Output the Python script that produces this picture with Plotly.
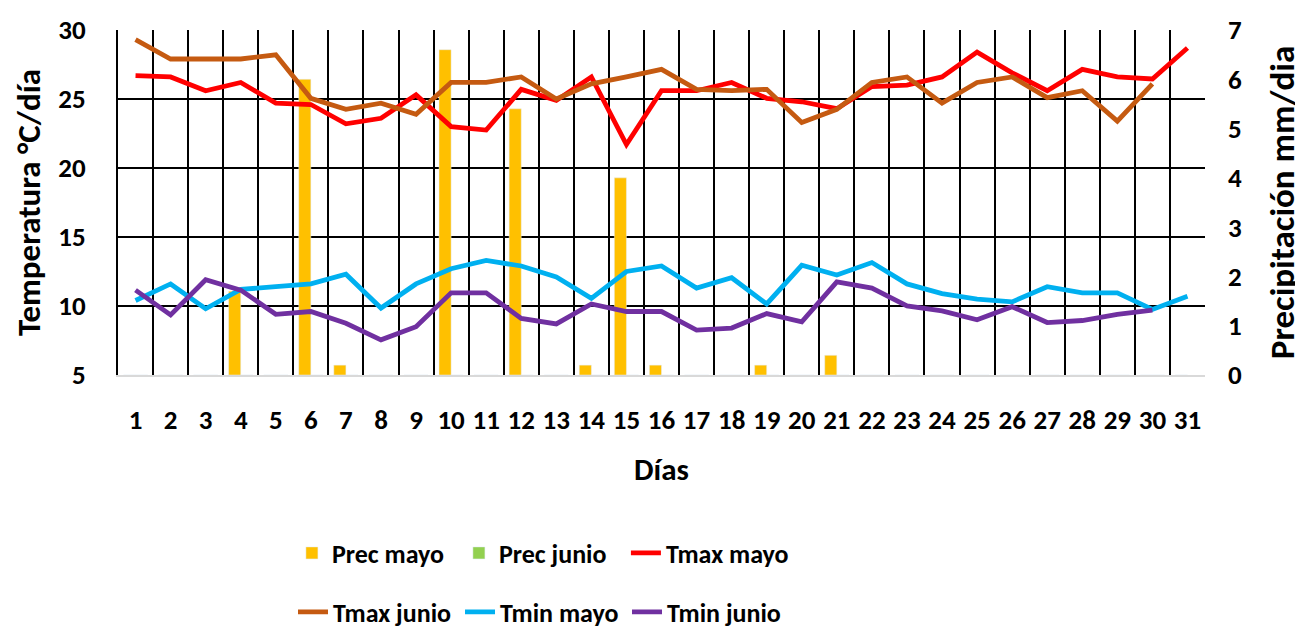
import plotly.graph_objects as go

days = list(range(1, 32))
prec_mayo = [0, 0, 0, 1.7, 0, 6.0, 0.2, 0, 0, 6.6, 0, 5.4, 0, 0.2, 4.0, 0.2, 0, 0, 0.2, 0, 0.4,
             0, 0, 0, 0, 0, 0, 0, 0, 0, 0]
prec_junio = [0] * 30
tmax_mayo = [26.7, 26.6, 25.6, 26.2, 24.7, 24.6, 23.2, 23.6, 25.3, 23.0, 22.75, 25.7, 24.9, 26.6,
             21.7, 25.6, 25.6, 26.2, 25.05, 24.8, 24.3, 25.9, 26.0, 26.6, 28.4, 26.9, 25.6, 27.15,
             26.6, 26.45, 28.7]
tmax_junio = [29.3, 27.9, 27.9, 27.9, 28.2, 25.05, 24.25, 24.7, 23.9, 26.2, 26.2, 26.6, 25.0, 26.1,
              26.6, 27.15, 25.7, 25.6, 25.7, 23.3, 24.25, 26.2, 26.6, 24.7, 26.2, 26.6, 25.1, 25.6,
              23.4, 26.1]
tmin_mayo = [10.4, 11.6, 9.8, 11.2, 11.4, 11.6, 12.3, 9.85, 11.6, 12.7, 13.3, 12.9, 12.1, 10.55,
             12.5, 12.9, 11.3, 12.05, 10.15, 12.95, 12.25, 13.15, 11.6, 10.9, 10.5, 10.3, 11.4,
             10.95, 10.95, 9.75, 10.7]
tmin_junio = [11.15, 9.35, 11.9, 11.15, 9.4, 9.6, 8.75, 7.55, 8.5, 10.95, 10.95, 9.1, 8.7, 10.15,
              9.6, 9.6, 8.25, 8.4, 9.45, 8.85, 11.75, 11.3, 10.0, 9.65, 9.0, 9.95, 8.8, 8.95, 9.4,
              9.7]

FONT = "Carlito, Calibri, Lato, sans-serif"
LW = 4.8

fig = go.Figure()
fig.add_trace(go.Bar(x=days, y=prec_mayo, name="Prec mayo", marker_color="#FFC000",
                     yaxis="y", legend="legend"))
fig.add_trace(go.Bar(x=days[:30], y=prec_junio, name="Prec junio", marker_color="#92D050",
                     yaxis="y", legend="legend"))
fig.add_trace(go.Scatter(x=days, y=tmax_mayo, name="Tmax mayo", mode="lines",
                         line=dict(color="#FF0000", width=LW), yaxis="y2", legend="legend"))
fig.add_trace(go.Scatter(x=days[:30], y=tmax_junio, name="Tmax junio", mode="lines",
                         line=dict(color="#C55A11", width=LW), yaxis="y2", legend="legend2"))
fig.add_trace(go.Scatter(x=days, y=tmin_mayo, name="Tmin mayo", mode="lines",
                         line=dict(color="#00B0F0", width=LW), yaxis="y2", legend="legend2"))
fig.add_trace(go.Scatter(x=days[:30], y=tmin_junio, name="Tmin junio", mode="lines",
                         line=dict(color="#7030A0", width=LW), yaxis="y2", legend="legend2"))

TICKF = dict(family=FONT, size=27, color="black", weight="bold")
LEGF = dict(family=FONT, size=26, color="black", weight="bold")

fig.update_layout(
    width=1295, height=622,
    margin=dict(l=110, r=98, t=22, b=255, autoexpand=False),
    paper_bgcolor="white", plot_bgcolor="white",
    font=dict(family=FONT, size=24, color="black"),
    barmode="group", bargap=0.31, bargroupgap=0,
    xaxis=dict(
        range=[0.5, 31.5], tickvals=days, ticktext=[str(d) for d in days],
        showgrid=False, zeroline=False,
        showline=True, linecolor="#D9D9D9", linewidth=2,
        ticks="", ticklabelstandoff=20,
        tickfont=TICKF,
        minor=dict(tick0=0.5, dtick=1, showgrid=True, gridcolor="black", gridwidth=2),
        title=dict(text="<b>Días</b>", font=dict(family=FONT, size=31, color="black"), standoff=23),
    ),
    yaxis=dict(
        side="right", range=[0, 7], tickvals=list(range(0, 8)),
        showgrid=False, zeroline=False, showline=False,
        ticks="", ticklabelstandoff=22,
        tickfont=TICKF,
        title=dict(text="<b>Precipitación mm/dia</b>", font=dict(family=FONT, size=35, color="black"), standoff=30),
    ),
    yaxis2=dict(
        overlaying="y", side="left", range=[5, 30], tickvals=[5, 10, 15, 20, 25, 30],
        showgrid=True, gridcolor="black", gridwidth=2, zeroline=False,
        showline=True, linecolor="black", linewidth=2,
        ticks="", ticklabelstandoff=25,
        tickfont=TICKF,
        title=dict(text="<b>Temperatura °C/día</b>", font=dict(family=FONT, size=33, color="black"), standoff=8),
    ),
    legend=dict(orientation="h", x=0.160, xanchor="left", y=-0.516, yanchor="middle",
                entrywidth=122, font=LEGF, bgcolor="rgba(0,0,0,0)", traceorder="normal"),
    legend2=dict(orientation="h", x=0.161, xanchor="left", y=-0.687, yanchor="middle",
                 entrywidth=122, font=LEGF, bgcolor="rgba(0,0,0,0)", traceorder="normal"),
    showlegend=True,
)

fig.write_html("out.html")
